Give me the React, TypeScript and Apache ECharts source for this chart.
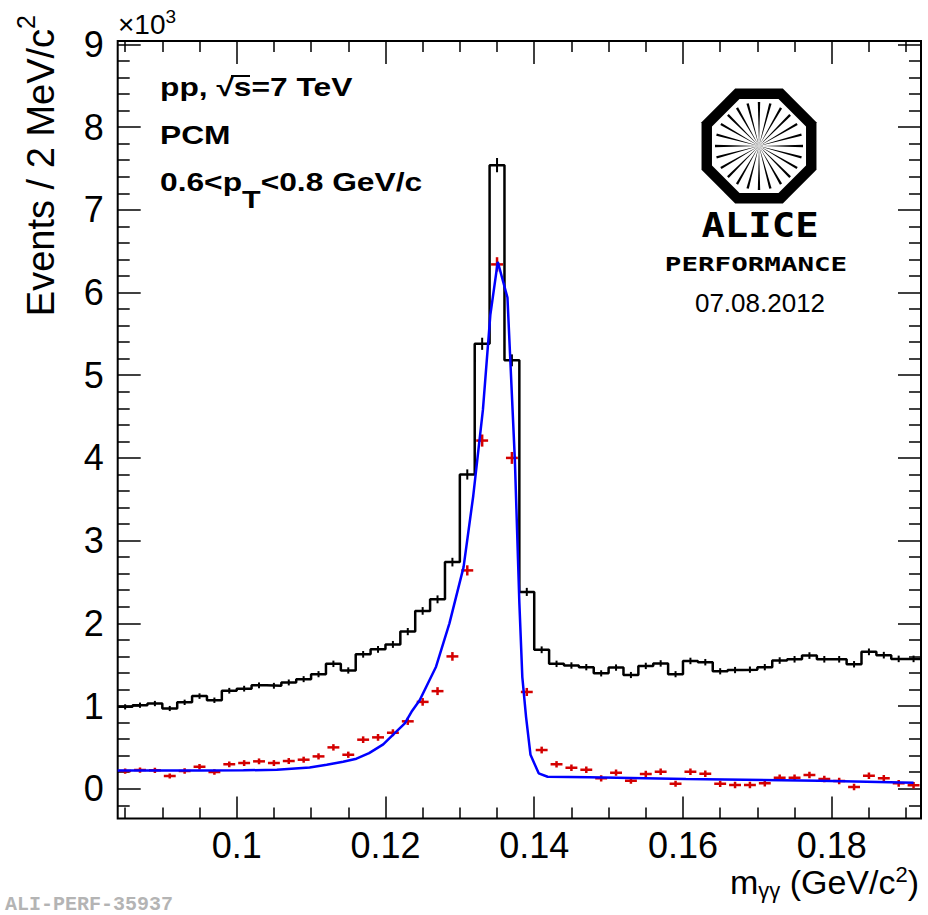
import React, { useEffect, useRef } from "react";
import * as echarts from "echarts";

// ---- binning (2 MeV bins) ----
const BIN_LOW = 0.084;
const BIN_WIDTH = 0.002;
const X_MIN = 0.084;
const X_MAX = 0.192;
const Y_MIN = -0.36;
const Y_MAX = 9.04;

// ---- same-event invariant-mass histogram (x10^3 counts) ----
const totalCounts = [
  0.99, 1.01, 1.03, 0.97, 1.045, 1.12, 1.07, 1.185, 1.21, 1.25,
  1.245, 1.285, 1.325, 1.385, 1.51, 1.43, 1.625, 1.685, 1.745, 1.9,
  2.15, 2.29, 2.74, 3.8, 5.38, 7.54, 5.18, 2.38, 1.68, 1.51,
  1.49, 1.47, 1.395, 1.465, 1.375, 1.485, 1.515, 1.385, 1.545, 1.53,
  1.42, 1.435, 1.44, 1.47, 1.55, 1.565, 1.61, 1.565, 1.565, 1.505,
  1.655, 1.615, 1.57, 1.57,
];

// ---- background-subtracted signal (x10^3 counts) ----
const signalCounts = [
  0.214, 0.226, 0.222, 0.154, 0.214, 0.266, 0.202, 0.295, 0.311, 0.331,
  0.311, 0.335, 0.351, 0.391, 0.5, 0.411, 0.593, 0.621, 0.677, 0.815,
  1.05, 1.18, 1.6, 2.64, 4.21, 6.34, 4.0, 1.17, 0.468, 0.295,
  0.254, 0.23, 0.126, 0.194, 0.097, 0.178, 0.206, 0.06, 0.206, 0.181,
  0.06, 0.045, 0.045, 0.065, 0.133, 0.133, 0.166, 0.117, 0.093, 0.02,
  0.157, 0.126, 0.065, 0.041,
];

// ---- fit function (sampled as drawn) ----
const fitX = [
  0.084, 0.095, 0.1009, 0.1054, 0.1098, 0.1121, 0.1143, 0.1161, 0.1178, 0.1197,
  0.121, 0.1226, 0.1235, 0.1246, 0.1268, 0.1286, 0.1305, 0.1318, 0.1331, 0.1341,
  0.1351, 0.1364, 0.1374, 0.138, 0.1384, 0.1389, 0.1395, 0.1406, 0.1418, 0.1474,
  0.1604, 0.1783, 0.191,
];
const fitY = [
  0.22, 0.221, 0.222, 0.23, 0.258, 0.29, 0.327, 0.363, 0.43, 0.536,
  0.65, 0.79, 0.93, 1.07, 1.475, 2.0, 2.68, 3.54, 4.58, 5.73,
  6.37, 5.94, 3.97, 2.25, 1.35, 0.87, 0.41, 0.186, 0.145, 0.138,
  0.117, 0.097, 0.073,
];

// ---- ticks ----
const xMajorTicks = [0.1, 0.12, 0.14, 0.16, 0.18];
const xMinorTicks = [
  0.085, 0.09, 0.095, 0.105, 0.11, 0.115, 0.125, 0.13, 0.135, 0.145,
  0.15, 0.155, 0.165, 0.17, 0.175, 0.185, 0.19,
];
const yMajorTicks = [0, 1, 2, 3, 4, 5, 6, 7, 8, 9];
const yMinorTicks: number[] = [];
for (let k = -1; k <= 44; k++) if (k % 5 !== 0) yMinorTicks.push(+(k / 5).toFixed(1));

const FONT = "'Liberation Sans', Arial, Helvetica, sans-serif";
const MONO = "'DejaVu Sans Mono', monospace";

function buildOption() {
  const stepData: number[][] = [];
  totalCounts.forEach((v, i) => {
    const lo = +(BIN_LOW + i * BIN_WIDTH).toFixed(4);
    const hi = +(BIN_LOW + (i + 1) * BIN_WIDTH).toFixed(4);
    stepData.push([lo, v], [hi, v]);
  });
  const centers = totalCounts.map((_, i) => +(BIN_LOW + (i + 0.5) * BIN_WIDTH).toFixed(4));
  const statErr = totalCounts.map((v) => Math.sqrt(v * 1000) / 1000);
  const blackErr = totalCounts.map((v, i) => [centers[i], v, statErr[i]]);
  const redErr = signalCounts.map((v, i) => [centers[i], v, statErr[i]]);
  const fitData = fitX.map((x, i) => [x, fitY[i]]);

  const crossRenderer = (halfWidth: number, color: string, lw: number) =>
    (params: any, api: any) => {
      const x = api.value(0);
      const y = api.value(1);
      const e = api.value(2);
      const c = api.coord([x, y]);
      const l = api.coord([x - halfWidth, y]);
      const r = api.coord([x + halfWidth, y]);
      const t = api.coord([x, y + e]);
      const b = api.coord([x, y - e]);
      const children: any[] = [
        { type: "line", shape: { x1: c[0], y1: t[1], x2: c[0], y2: b[1] }, style: { stroke: color, lineWidth: lw } },
      ];
      if (halfWidth > 0) {
        children.push({ type: "line", shape: { x1: l[0], y1: c[1], x2: r[0], y2: c[1] }, style: { stroke: color, lineWidth: lw } });
      }
      return { type: "group", children };
    };

  const tickLine = { color: "#000", width: 1.5 };
  const xBase = (pos: string, ticks: number[], len: number, labels: boolean) => ({
    type: "value",
    min: X_MIN,
    max: X_MAX,
    position: pos,
    axisLine: { show: false, onZero: false },
    splitLine: { show: false },
    axisTick: { show: true, inside: true, length: len, customValues: ticks, lineStyle: tickLine },
    axisLabel: labels
      ? { show: true, customValues: ticks, formatter: (v: number) => String(+v.toFixed(3)), fontSize: 36, fontFamily: FONT, color: "#000", margin: 9 }
      : { show: false },
  });
  const yBase = (pos: string, ticks: number[], len: number, labels: boolean) => ({
    type: "value",
    min: Y_MIN,
    max: Y_MAX,
    position: pos,
    axisLine: { show: false, onZero: false },
    splitLine: { show: false },
    axisTick: { show: true, inside: true, length: len, customValues: ticks, lineStyle: tickLine },
    axisLabel: labels
      ? { show: true, customValues: ticks, formatter: (v: number) => String(Math.round(v)), fontSize: 36, fontFamily: FONT, color: "#000", margin: 14 }
      : { show: false },
  });

  // ALICE logo geometry
  const cx = 759;
  const cy = 146;
  const octagon = (R: number) => {
    const pts: number[][] = [];
    for (let k = 0; k < 8; k++) {
      const a = ((22.5 + 45 * k) * Math.PI) / 180;
      pts.push([cx + R * Math.cos(a), cy - R * Math.sin(a)]);
    }
    return pts;
  };
  const spokes: any[] = [];
  for (let k = 0; k < 24; k++) {
    const a = (k * 15 * Math.PI) / 180;
    const r = 44;
    const hw = 1.2;
    const ex = cx + r * Math.cos(a);
    const ey = cy - r * Math.sin(a);
    const px = -Math.sin(a) * hw;
    const py = -Math.cos(a) * hw;
    spokes.push({
      type: "polygon",
      shape: { points: [[cx, cy], [ex + px, ey + py], [ex - px, ey - py]] },
      style: { fill: "#000" },
      silent: true,
    });
  }

  const graphic: any[] = [
    // exponent
    {
      type: "text",
      x: 118,
      y: 24,
      style: {
        text: "{b|×10}{sup|3}",
        align: "left",
        verticalAlign: "middle",
        rich: {
          b: { fontSize: 28, fontFamily: FONT, fill: "#000", lineHeight: 34, verticalAlign: "middle" },
          sup: { fontSize: 19, fontFamily: FONT, fill: "#000", lineHeight: 6, verticalAlign: "top" },
        },
      },
    },
    // y title
    {
      type: "text",
      x: 41,
      y: 15,
      rotation: Math.PI / 2,
      style: {
        text: "{b|Events / 2 MeV/c}{sup|2}",
        align: "right",
        verticalAlign: "middle",
        rich: {
          b: { fontSize: 38, fontFamily: FONT, fill: "#000", lineHeight: 56, verticalAlign: "middle" },
          sup: { fontSize: 25, fontFamily: FONT, fill: "#000", lineHeight: 30, verticalAlign: "top" },
        },
      },
    },
    // x title
    {
      type: "text",
      x: 919,
      y: 882,
      style: {
        text: "{b|m}{sub|γγ}{b| (GeV/c}{sup|2}{b|)}",
        align: "right",
        verticalAlign: "middle",
        rich: {
          b: { fontSize: 34, fontFamily: FONT, fill: "#000", lineHeight: 38, verticalAlign: "middle" },
          sup: { fontSize: 22, fontFamily: FONT, fill: "#000", lineHeight: 18, verticalAlign: "top" },
          sub: { fontSize: 22, fontFamily: FONT, fill: "#000", lineHeight: 18, verticalAlign: "bottom" },
        },
      },
    },
    // annotations
    {
      type: "text",
      x: 160,
      y: 87,
      scaleX: 1.27,
      style: { text: "pp, √s=7 TeV", font: `bold 25px ${FONT}`, fill: "#000", align: "left", verticalAlign: "middle" },
    },
    {
      type: "line",
      shape: { x1: 231, y1: 76, x2: 250, y2: 76 },
      style: { stroke: "#000", lineWidth: 2 },
      silent: true,
    },
    {
      type: "text",
      x: 160,
      y: 135,
      scaleX: 1.27,
      style: { text: "PCM", font: `bold 25px ${FONT}`, fill: "#000", align: "left", verticalAlign: "middle" },
    },
    {
      type: "text",
      x: 160,
      y: 182,
      scaleX: 1.27,
      style: {
        text: "{b|0.6<p}{sub|T}{b|<0.8 GeV/c}",
        align: "left",
        verticalAlign: "middle",
        rich: {
          b: { fontSize: 25, fontWeight: "bold", fontFamily: FONT, fill: "#000", lineHeight: 60, verticalAlign: "middle" },
          sub: { fontSize: 24, fontWeight: "bold", fontFamily: FONT, fill: "#000", lineHeight: 22, verticalAlign: "bottom" },
        },
      },
    },
    // ALICE logo
    { type: "polygon", shape: { points: octagon(62.2) }, style: { fill: "#000" }, silent: true },
    { type: "polygon", shape: { points: octagon(50.9) }, style: { fill: "#fff" }, silent: true },
    ...spokes,
    {
      type: "text",
      x: 760,
      y: 226,
      scaleX: 1.18,
      style: { text: "ALICE", font: `bold 33px ${MONO}`, fill: "#000", align: "center", verticalAlign: "middle" },
    },
    {
      type: "text",
      x: 756,
      y: 265,
      scaleX: 1.45,
      style: { text: "PERFORMANCE", font: `bold 19px ${MONO}`, fill: "#000", align: "center", verticalAlign: "middle" },
    },
    {
      type: "text",
      x: 760,
      y: 303,
      style: { text: "07.08.2012", font: `26px ${FONT}`, fill: "#000", align: "center", verticalAlign: "middle" },
    },
    {
      type: "text",
      x: 5,
      y: 904,
      style: { text: "ALI-PERF-35937", font: `bold 20px 'Liberation Mono', monospace`, fill: "#b4b4b4", align: "left", verticalAlign: "middle" },
    },
  ];

  return {
    animation: false,
    backgroundColor: "#fff",
    grid: {
      left: 117.7,
      right: 7,
      top: 41.1,
      bottom: 96.5,
      show: true,
      borderColor: "#000",
      borderWidth: 2,
      backgroundColor: "transparent",
      containLabel: false,
    },
    xAxis: [
      xBase("bottom", xMajorTicks, 22, true),
      xBase("bottom", xMinorTicks, 11, false),
      xBase("top", xMajorTicks, 23, false),
      xBase("top", xMinorTicks, 11, false),
    ],
    yAxis: [
      yBase("left", yMajorTicks, 23, true),
      yBase("left", yMinorTicks, 12, false),
      yBase("right", yMajorTicks, 23, false),
      yBase("right", yMinorTicks, 12, false),
    ],
    series: [
      {
        type: "line",
        name: "same event",
        data: stepData,
        symbol: "none",
        lineStyle: { color: "#000", width: 2.5 },
        z: 2,
        clip: true,
      },
      {
        type: "custom",
        name: "same event errors",
        data: blackErr,
        encode: { x: 0, y: 1 },
        renderItem: crossRenderer(0, "#000", 2),
        z: 3,
        clip: true,
      },
      {
        type: "custom",
        name: "signal",
        data: redErr,
        encode: { x: 0, y: 1 },
        renderItem: crossRenderer(0.0008, "#d40000", 2.5),
        z: 4,
        clip: true,
      },
      {
        type: "line",
        name: "fit",
        data: fitData,
        symbol: "none",
        smooth: false,
        lineStyle: { color: "#0000ff", width: 2.5 },
        z: 5,
        clip: true,
      },
    ],
    graphic,
  };
}

export default function App() {
  const ref = useRef<HTMLDivElement>(null);
  useEffect(() => {
    document.body.style.margin = "0";
    document.body.style.overflow = "hidden";
    if (!ref.current) return;
    const chart = echarts.init(ref.current, undefined, { renderer: "svg" });
    chart.setOption(buildOption() as any);
    return () => chart.dispose();
  }, []);
  return <div ref={ref} style={{ width: 928, height: 915, background: "#fff" }} />;
}
